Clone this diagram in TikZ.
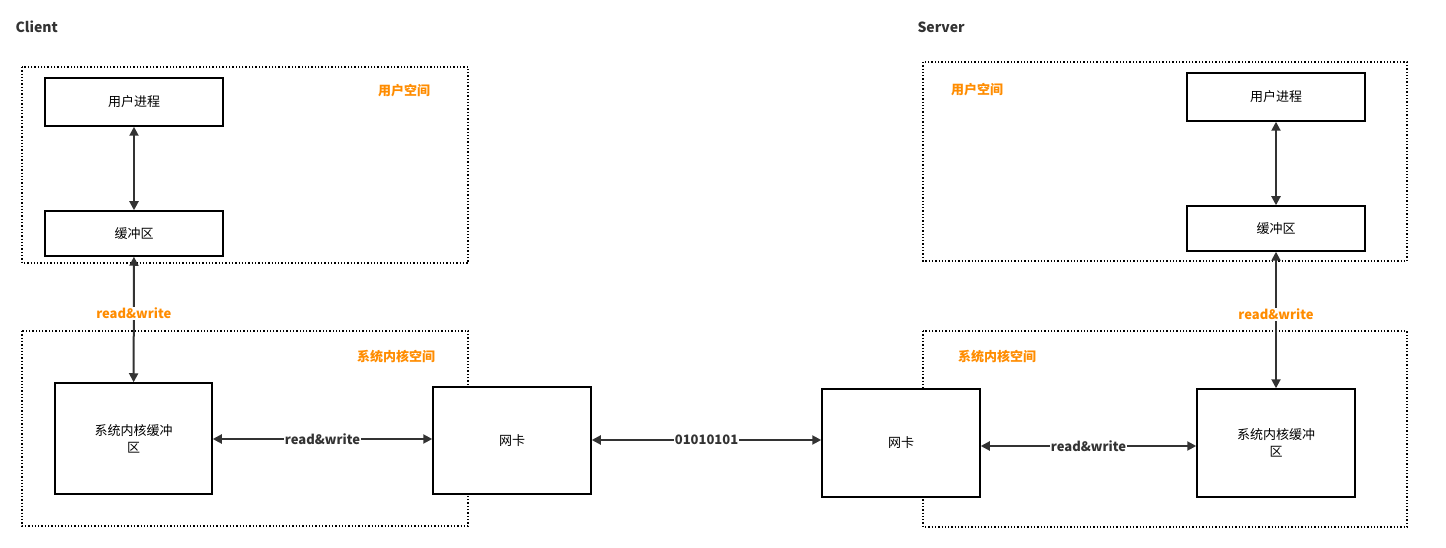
\documentclass[tikz,border=0pt]{standalone}
\usepackage{fontspec}
\setmainfont{Noto Sans CJK SC}
\usetikzlibrary{arrows.meta}
\definecolor{dk}{HTML}{333333}
\definecolor{og}{HTML}{FF8C00}
\begin{document}
\begin{tikzpicture}[x=1pt,y=-1pt,
  box/.style={draw=black,line width=1.5pt,fill=white,align=center,font=\fontsize{13}{17}\selectfont,inner sep=0pt},
  zone/.style={draw=black,line width=1.3pt,dotted},
  zl/.style={text=og,font=\bfseries\fontsize{13}{16}\selectfont},
  ar/.style={draw=dk,line width=2pt,{Triangle[length=9pt,width=9pt]}-{Triangle[length=9pt,width=9pt]}},
  lb/.style={fill=white,text=dk,font=\bfseries\fontsize{13}{16}\selectfont,inner sep=1pt},
  olb/.style={fill=white,text=og,font=\bfseries\fontsize{13}{16}\selectfont,inner sep=1pt},
  ttl/.style={text=dk,font=\bfseries\fontsize{14}{16}\selectfont,anchor=west}]
\useasboundingbox (0,0) rectangle (1446,548);
\node[ttl] (client) at (12,27) {Client};
\node[ttl] (server) at (914,27) {Server};
% client
\draw[zone] (22,67) rectangle (468,263);
\node[zl] (cus) at (404,91) {用户空间};
\draw[zone] (22,331) rectangle (468,526);
\node[zl] (cks) at (396,357) {系统内核空间};
\node[box,minimum width=178pt,minimum height=48pt] (cp) at (134,102) {用户进程};
\node[box,minimum width=178pt,minimum height=45pt] (cb) at (134,233.5) {缓冲区};
\node[box,minimum width=157pt,minimum height=111pt] (ckb) at (133.5,438.5) {系统内核缓冲\\区};
\node[box,minimum width=158pt,minimum height=107pt] (cn) at (512,440.5) {网卡};
% server
\draw[zone] (923,62) rectangle (1407,261);
\node[zl] (sus) at (977,90) {用户空间};
\draw[zone] (923,331) rectangle (1407,527);
\node[zl] (sks) at (997,357) {系统内核空间};
\node[box,minimum width=178pt,minimum height=48pt] (sp) at (1276,97) {用户进程};
\node[box,minimum width=178pt,minimum height=45pt] (sb) at (1276,228.5) {缓冲区};
\node[box,minimum width=158pt,minimum height=108pt] (skb) at (1276,443) {系统内核缓冲\\区};
\node[box,minimum width=158pt,minimum height=108pt] (sn) at (901,443) {网卡};
% arrows
\draw[ar] (cp) -- (cb);
\draw[ar] (cb) -- node[olb,pos=0.45] (l1) {read\&write} (ckb);
\draw[ar] (ckb.east |- 0,439) -- node[lb] (l2) {read\&write} (cn.west |- 0,439);
\draw[ar] (cn.east |- 0,440) -- node[lb] (l3) {01010101} (sn.west |- 0,440);
\draw[ar] (sn.east |- 0,446) -- node[lb] (l4) {read\&write} (skb.west |- 0,446);
\draw[ar] (sp) -- (sb);
\draw[ar] (sb) -- node[olb,pos=0.46] (l5) {read\&write} (skb);
\end{tikzpicture}
\end{document}
